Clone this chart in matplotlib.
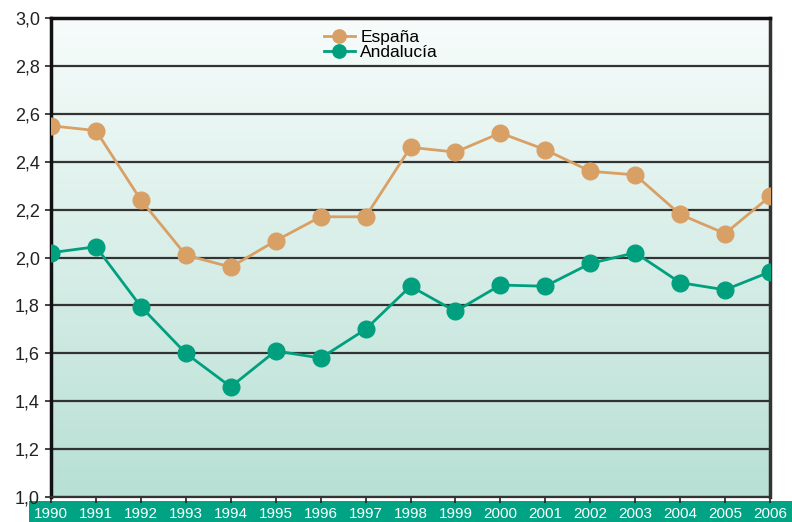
import matplotlib
matplotlib.use("Agg")
import matplotlib.pyplot as plt
import numpy as np
from matplotlib.patches import Rectangle
from matplotlib.colors import LinearSegmentedColormap

plt.rcParams['font.family'] = ['Liberation Sans', 'DejaVu Sans']

years = list(range(1990, 2007))
espana = [2.55, 2.53, 2.24, 2.01, 1.96, 2.07, 2.17, 2.17, 2.46, 2.44, 2.52, 2.45, 2.36, 2.345, 2.18, 2.10, 2.255]
andalucia = [2.02, 2.045, 1.795, 1.60, 1.46, 1.61, 1.58, 1.70, 1.88, 1.775, 1.885, 1.88, 1.975, 2.02, 1.895, 1.865, 1.94]
yticks = [1.0, 1.2, 1.4, 1.6, 1.8, 2.0, 2.2, 2.4, 2.6, 2.8, 3.0]

c_es = "#D9A066"
c_an = "#00A07F"

fig = plt.figure(figsize=(7.92, 5.22), dpi=100)
W, H = 792, 522
ax = fig.add_axes([51 / W, 1 - 497 / H, (770 - 51) / W, (497 - 18) / H])

# green band at bottom
band = Rectangle((29 / W, 0), 1 - 29 / W, 21 / H, transform=fig.transFigure,
                 facecolor="#00A384", edgecolor="none", zorder=-5)
fig.add_artist(band)

# gradient background
cmap = LinearSegmentedColormap.from_list("bg", ["#B8E0D4", "#F7FCFB"])
grad = np.linspace(0, 1, 256).reshape(-1, 1)
ax.imshow(grad, aspect="auto", cmap=cmap, origin="lower",
          extent=[years[0], years[-1], 1.0, 3.0], zorder=0)

ax.set_xlim(years[0], years[-1])
ax.set_ylim(1.0, 3.0)

for v in yticks:
    ax.axhline(v, color="#333333", lw=1.6, zorder=1)

ax.plot(years, espana, color=c_es, lw=2, marker="o", ms=12, zorder=3, label="España")
ax.plot(years, andalucia, color=c_an, lw=2, marker="o", ms=12, zorder=3, label="Andalucía")

ax.set_yticks(yticks)
ax.set_yticklabels([f"{v:.1f}".replace(".", ",") for v in yticks], fontsize=13, color="#222222")
ax.set_xticks(years)
ax.set_xticklabels([str(y) for y in years], fontsize=11, color="white")
ax.tick_params(axis="x", length=4, width=1.2, color="#222222", pad=3)
ax.tick_params(axis="y", length=4, width=1.2, color="#222222", pad=4)

for s in ["left", "top"]:
    ax.spines[s].set_linewidth(2.5)
    ax.spines[s].set_color("#111111")
ax.spines["right"].set_linewidth(2.5)
ax.spines["right"].set_color("#333333")
ax.spines["bottom"].set_linewidth(1.6)
ax.spines["bottom"].set_color("#333333")

leg = ax.legend(loc="upper left", bbox_to_anchor=(0.36, 1.005), frameon=False, fontsize=12.5,
                handlelength=1.8, handletextpad=0.3, labelspacing=0.0, borderpad=0.3, markerscale=0.8)

fig.savefig("out.png", dpi=100)
